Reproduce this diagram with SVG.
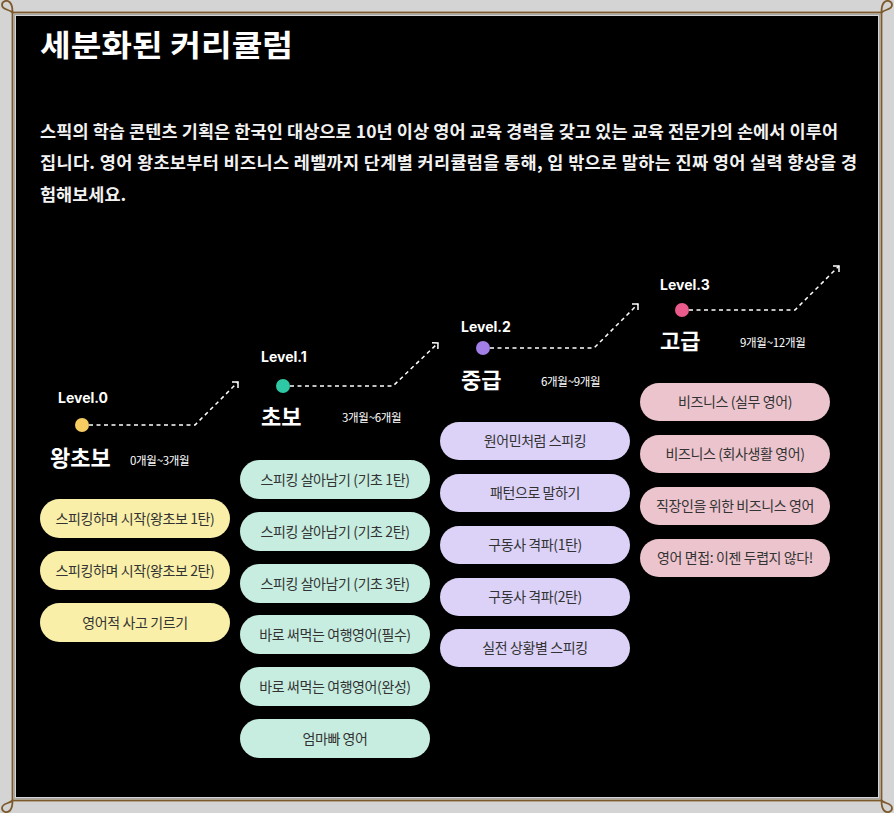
<svg xmlns="http://www.w3.org/2000/svg" width="894" height="813" viewBox="0 0 894 813">
<style>
.kr{font-family:"Noto Sans CJK KR","Noto Sans",sans-serif}
.title{font-size:30px;font-weight:700;fill:#ffffff}
.para{font-size:17.5px;font-weight:600;fill:#f2f2f2}
.lvl{font-family:Inter,"Noto Sans",sans-serif;font-size:14px;font-weight:700;fill:#ffffff}
.name{font-size:22px;font-weight:700;fill:#ffffff}
.period{font-size:11.5px;font-weight:400;fill:#ffffff;letter-spacing:-0.3px}
.pill text{font-size:14px;font-weight:400;fill:#333333;text-anchor:middle;letter-spacing:-0.4px}
.y rect{fill:#f9efa8}
.m rect{fill:#c6ede0}
.p rect{fill:#dcd2f8}
.k rect{fill:#ecc4cd}
.dash{fill:none;stroke:#ffffff;stroke-width:1.5;stroke-dasharray:4 3.5}
.frame{fill:none;stroke:#7d5a2c;stroke-width:1.8}
</style>
<defs>
<marker id="arr" markerUnits="userSpaceOnUse" markerWidth="16" markerHeight="16" refX="8" refY="8" viewBox="0 0 16 16" orient="auto" overflow="visible">
<path d="M3.76,3.76 L8,8 L3.76,12.24" fill="none" stroke="#ffffff" stroke-width="1.5" stroke-dasharray="none"/>
</marker>
</defs>
<rect x="0" y="0" width="894" height="813" fill="#d4d4d4"/>
<rect x="16" y="16" width="862" height="781" fill="#000000"/>
<rect x="14.5" y="14.5" width="865" height="784" fill="none" stroke="#a8a8a8" stroke-width="1"/>
<g id="frame">
<rect class="frame" x="12.5" y="12.5" width="869" height="788"/>
<path class="frame" d="M12.5,12.5 C9,9 2,10 2,5 C2,1 7,-0.5 10,2.5 C12.5,5 12.5,9 12.5,12.5"/>
<path class="frame" d="M881.5,12.5 C885,9 892,10 892,5 C892,1 887,-0.5 884,2.5 C881.5,5 881.5,9 881.5,12.5"/>
<path class="frame" d="M12.5,800.5 C9,804 2,803 2,808 C2,812 7,813.5 10,810.5 C12.5,808 12.5,804 12.5,800.5"/>
<path class="frame" d="M881.5,800.5 C885,804 892,803 892,808 C892,812 887,813.5 884,810.5 C881.5,808 881.5,804 881.5,800.5"/>
</g>
<g id="header">
<text class="kr title" x="40" y="56" textLength="253" lengthAdjust="spacingAndGlyphs">세분화된 커리큘럼</text>
<text class="kr para" x="40" y="138" textLength="798" lengthAdjust="spacing">스픽의 학습 콘텐츠 기획은 한국인 대상으로 10년 이상 영어 교육 경력을 갖고 있는 교육 전문가의 손에서 이루어</text>
<text class="kr para" x="40" y="169" textLength="817" lengthAdjust="spacing">집니다. 영어 왕초보부터 비즈니스 레벨까지 단계별 커리큘럼을 통해, 입 밖으로 말하는 진짜 영어 실력 향상을 경</text>
<text class="kr para" x="40" y="201">험해보세요.</text>
</g>
<g id="connectors">
<polyline class="dash" points="89,425 195,425 238,382" marker-end="url(#arr)"/>
<polyline class="dash" points="290,386 393,386 438,343" marker-end="url(#arr)"/>
<polyline class="dash" points="490,348 594,348 638,304" marker-end="url(#arr)"/>
<polyline class="dash" points="689,310 795,310 839,266" marker-end="url(#arr)"/>
</g>
<g id="level0">
<text class="lvl" x="58" y="403">Level.0</text>
<circle cx="82" cy="425" r="7" fill="#f7cd62"/>
<text class="kr name" x="50" y="466">왕초보</text>
<text class="kr period" x="130" y="465">0개월~3개월</text>
</g>
<g id="level1">
<text class="lvl" x="261" y="362">Level.1</text>
<circle cx="283" cy="386" r="7" fill="#2ec9a4"/>
<text class="kr name" x="261" y="425">초보</text>
<text class="kr period" x="342" y="422">3개월~6개월</text>
</g>
<g id="level2">
<text class="lvl" x="461" y="332">Level.2</text>
<circle cx="483" cy="348" r="7" fill="#a17ee8"/>
<text class="kr name" x="461" y="388">중급</text>
<text class="kr period" x="541" y="386">6개월~9개월</text>
</g>
<g id="level3">
<text class="lvl" x="660" y="290">Level.3</text>
<circle cx="682" cy="310" r="7" fill="#ea5a8a"/>
<text class="kr name" x="660" y="349">고급</text>
<text class="kr period" x="740" y="347">9개월~12개월</text>
</g>
<g id="c0-1" class="pill y"><rect x="40" y="499" width="190" height="39" rx="19.5"/><text class="kr" x="135" y="523.5">스피킹하며 시작(왕초보 1탄)</text></g>
<g id="c0-2" class="pill y"><rect x="40" y="551" width="190" height="39" rx="19.5"/><text class="kr" x="135" y="575.5">스피킹하며 시작(왕초보 2탄)</text></g>
<g id="c0-3" class="pill y"><rect x="40" y="603" width="190" height="39" rx="19.5"/><text class="kr" x="135" y="627.5">영어적 사고 기르기</text></g>
<g id="c1-1" class="pill m"><rect x="240" y="460" width="190" height="39" rx="19.5"/><text class="kr" x="335" y="484.5">스피킹 살아남기 (기초 1탄)</text></g>
<g id="c1-2" class="pill m"><rect x="240" y="512" width="190" height="39" rx="19.5"/><text class="kr" x="335" y="536.5">스피킹 살아남기 (기초 2탄)</text></g>
<g id="c1-3" class="pill m"><rect x="240" y="564" width="190" height="39" rx="19.5"/><text class="kr" x="335" y="588.5">스피킹 살아남기 (기초 3탄)</text></g>
<g id="c1-4" class="pill m"><rect x="240" y="615" width="190" height="39" rx="19.5"/><text class="kr" x="335" y="639.5">바로 써먹는 여행영어(필수)</text></g>
<g id="c1-5" class="pill m"><rect x="240" y="667" width="190" height="39" rx="19.5"/><text class="kr" x="335" y="691.5">바로 써먹는 여행영어(완성)</text></g>
<g id="c1-6" class="pill m"><rect x="240" y="719" width="190" height="39" rx="19.5"/><text class="kr" x="335" y="743.5">엄마빠 영어</text></g>
<g id="c2-1" class="pill p"><rect x="440" y="422" width="190" height="38" rx="19"/><text class="kr" x="535" y="446">원어민처럼 스피킹</text></g>
<g id="c2-2" class="pill p"><rect x="440" y="474" width="190" height="38" rx="19"/><text class="kr" x="535" y="498">패턴으로 말하기</text></g>
<g id="c2-3" class="pill p"><rect x="440" y="526" width="190" height="38" rx="19"/><text class="kr" x="535" y="550">구동사 격파(1탄)</text></g>
<g id="c2-4" class="pill p"><rect x="440" y="578" width="190" height="38" rx="19"/><text class="kr" x="535" y="602">구동사 격파(2탄)</text></g>
<g id="c2-5" class="pill p"><rect x="440" y="629" width="190" height="38" rx="19"/><text class="kr" x="535" y="653">실전 상황별 스피킹</text></g>
<g id="c3-1" class="pill k"><rect x="640" y="383" width="190" height="38" rx="19"/><text class="kr" x="735" y="407">비즈니스 (실무 영어)</text></g>
<g id="c3-2" class="pill k"><rect x="640" y="435" width="190" height="38" rx="19"/><text class="kr" x="735" y="459">비즈니스 (회사생활 영어)</text></g>
<g id="c3-3" class="pill k"><rect x="640" y="487" width="190" height="38" rx="19"/><text class="kr" x="735" y="511">직장인을 위한 비즈니스 영어</text></g>
<g id="c3-4" class="pill k"><rect x="640" y="539" width="190" height="38" rx="19"/><text class="kr" x="735" y="563">영어 면접: 이젠 두렵지 않다!</text></g>
</svg>
